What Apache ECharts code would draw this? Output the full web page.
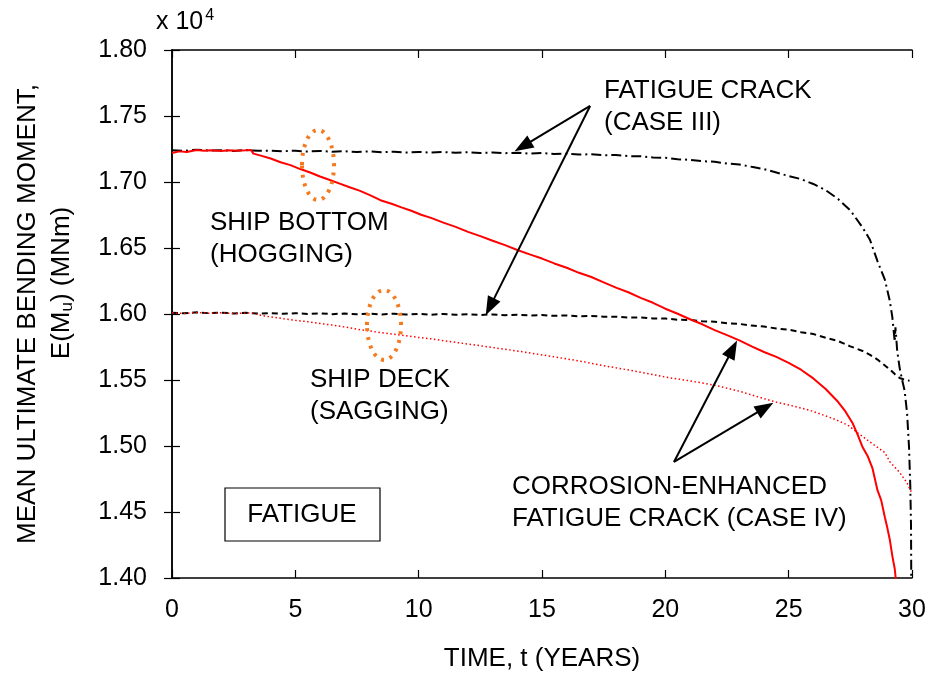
<!DOCTYPE html>
<html>
<head>
<meta charset="utf-8">
<script src="https://cdn.jsdelivr.net/npm/echarts@6/dist/echarts.min.js"></script>
<style>
  html, body { margin: 0; padding: 0; background: #fff; }
  #chart { width: 935px; height: 677px; }
</style>
</head>
<body>
<div id="chart"></div>
<script>
// values in units of 10^4 MNm, t in years
const hoggingCaseIII = [
  [0,1.7240],[0.5,1.7236],[1,1.7245],[1.5,1.7238],[2,1.7241],[2.5,1.7235],[3,1.7242],[3.5,1.7236],
  [4,1.7238],[4.5,1.7233],[5,1.7237],[5.5,1.7231],[6,1.7235],[6.5,1.7229],[7,1.7233],[7.5,1.7227],
  [8,1.7232],[8.5,1.7226],[9,1.7230],[9.5,1.7224],[10,1.7228],[10.5,1.7223],[11,1.7227],[11.5,1.7221],
  [12,1.7226],[12.5,1.7220],[13,1.7224],[13.5,1.7218],[14,1.7222],[14.5,1.7215],[15,1.7219],[15.5,1.7212],
  [16,1.7215],[16.5,1.7208],[17,1.7210],[17.5,1.7203],[18,1.7204],[18.5,1.7196],[19,1.7195],[19.5,1.7186],
  [20,1.7183],[20.5,1.7172],[21,1.7168],[21.5,1.7158],[22,1.7153],[22.5,1.7140],[23,1.7133],[23.5,1.7115],
  [24,1.7098],[24.5,1.7072],[25,1.7045],[25.5,1.7022],[26,1.6985],[26.5,1.6938],[27,1.6872],[27.5,1.6785],
  [28,1.6655],[28.3,1.6560],[28.6,1.6400],[28.9,1.6260],[29.1,1.6100],[29.2,1.5980],[29.3,1.5790],
  [29.33,1.5900],[29.4,1.5720],[29.5,1.5590],[29.6,1.5500],[29.7,1.5420],[29.8,1.5250],[29.88,1.4990],
  [29.93,1.4700],[29.96,1.4400],[29.97,1.3990]
];
const saggingCaseIII = [
  [0,1.6010],[0.5,1.6005],[1,1.6013],[1.5,1.6006],[2,1.6010],[2.5,1.6004],[3,1.6009],[3.5,1.6003],
  [4,1.6007],[4.5,1.6001],[5,1.6006],[5.5,1.6000],[6,1.6005],[6.5,1.5999],[7,1.6004],[7.5,1.5998],
  [8,1.6003],[8.5,1.5997],[9,1.6002],[9.5,1.5996],[10,1.6001],[10.5,1.5995],[11,1.6000],[11.5,1.5994],
  [12,1.5998],[12.5,1.5993],[13,1.5997],[13.5,1.5991],[14,1.5995],[14.5,1.5989],[15,1.5992],[15.5,1.5986],
  [16,1.5989],[16.5,1.5983],[17,1.5985],[17.5,1.5979],[18,1.5980],[18.5,1.5973],[19,1.5974],[19.5,1.5966],
  [20,1.5965],[20.5,1.5957],[21,1.5955],[21.5,1.5945],[22,1.5942],[22.5,1.5930],[23,1.5925],[23.5,1.5912],
  [24,1.5905],[24.5,1.5890],[25,1.5882],[25.5,1.5862],[26,1.5848],[26.5,1.5820],[27,1.5795],[27.5,1.5755],
  [28,1.5720],[28.3,1.5690],[28.6,1.5655],[28.9,1.5610],[29.1,1.5580],[29.3,1.5545],[29.5,1.5515],
  [29.7,1.5502],[29.9,1.5495]
];
const hoggingCaseIV = [
  [0,1.7220],[0.3,1.7232],[0.6,1.7228],[1,1.7242],[1.3,1.7236],[1.6,1.7240],[2,1.7235],[2.3,1.7241],
  [2.6,1.7236],[3,1.7240],[3.2,1.7243],[3.3,1.7215],[3.6,1.7200],[4,1.7178],[4.4,1.7150],[4.8,1.7128],
  [5.2,1.7098],[5.6,1.7072],[6,1.7042],[6.4,1.7015],[6.8,1.6988],[7.2,1.6960],[7.6,1.6935],[8,1.6902],
  [8.45,1.6862],[8.9,1.6835],[9.3,1.6808],[9.7,1.6782],[10.1,1.6752],[10.5,1.6728],[11,1.6692],[11.5,1.6660],
  [12,1.6622],[12.5,1.6590],[13,1.6555],[13.5,1.6522],[14,1.6485],[14.5,1.6452],[15,1.6420],[15.5,1.6383],
  [16,1.6350],[16.5,1.6312],[17,1.6280],[17.5,1.6240],[18,1.6200],[18.5,1.6165],[19,1.6122],[19.5,1.6085],
  [20,1.6040],[20.5,1.6002],[21,1.5960],[21.5,1.5922],[22,1.5878],[22.5,1.5840],[23,1.5800],[23.5,1.5755],
  [24,1.5712],[24.5,1.5675],[25,1.5630],[25.5,1.5578],[26,1.5512],[26.5,1.5432],[27,1.5335],[27.3,1.5262],
  [27.6,1.5170],[27.8,1.5085],[28,1.4990],[28.2,1.4925],[28.4,1.4830],[28.6,1.4665],[28.75,1.4590],
  [28.9,1.4460],[29.0,1.4380],[29.1,1.4290],[29.2,1.4170],[29.3,1.4070],[29.35,1.3980]
];
const saggingCaseIV = [
  [0,1.6010],[0.5,1.6004],[1,1.6012],[1.5,1.6006],[2,1.6009],[2.5,1.6003],[3,1.6008],[3.3,1.6005],
  [3.6,1.5990],[4,1.5978],[4.5,1.5965],[5,1.5952],[5.5,1.5942],[6,1.5928],[6.5,1.5916],[7,1.5902],
  [7.6,1.5882],[8,1.5872],[8.5,1.5858],[9,1.5846],[9.5,1.5835],[10,1.5822],[10.5,1.5812],[11,1.5798],
  [11.7,1.5780],[12.3,1.5765],[13,1.5746],[13.6,1.5730],[14.2,1.5714],[14.8,1.5696],[15.4,1.5678],[16,1.5660],
  [16.7,1.5638],[17.4,1.5612],[18,1.5592],[18.7,1.5570],[19.4,1.5545],[20,1.5522],[20.7,1.5502],[21.5,1.5478],
  [22.2,1.5452],[23,1.5415],[23.8,1.5370],[24.5,1.5332],[25.2,1.5302],[25.9,1.5268],[26.5,1.5228],[26.9,1.5200],
  [27.4,1.5158],[27.8,1.5100],[28.3,1.5030],[28.9,1.4950],[29.1,1.4880],[29.5,1.4800],[29.8,1.4720],[30,1.4640]
];

// annotation arrows: [from, to] in data coords
const caseIIIArrows = [
  [[16.95, 1.7576], [14.22, 1.7270]],
  [[16.95, 1.7576], [12.89, 1.6054]]
];
const caseIVArrows = [
  [[20.35, 1.4879], [22.73, 1.5735]],
  [[20.35, 1.4879], [24.05, 1.5291]]
];

const FONT = "Liberation Sans, Arial, sans-serif";
const chart = echarts.init(document.getElementById("chart"));

function arrowLines(list) {
  return list.map(([a, b]) => [{ coord: a }, { coord: b }]);
}

function txt(x, y, text, extra) {
  return {
    type: "text", x, y, silent: true, z: 10,
    style: Object.assign({ text, font: "26px " + FONT, fill: "#000", align: "left", verticalAlign: "middle" }, extra || {})
  };
}

const axisCommon = {
  type: "value",
  axisLine: { show: true, lineStyle: { color: "#000", width: 1.5 } },
  axisTick: { show: true, inside: true, length: 8, lineStyle: { color: "#000", width: 1.2 } },
  splitLine: { show: false }
};

chart.setOption({
  animation: false,
  backgroundColor: "#fff",
  grid: { left: 172, right: 23, top: 50, bottom: 99 },
  xAxis: [
    Object.assign({}, axisCommon, {
      min: 0, max: 30, interval: 5, position: "bottom",
      axisLabel: { fontSize: 25, fontFamily: FONT, color: "#000", margin: 20 },
      name: "TIME, t (YEARS)", nameLocation: "middle", nameGap: 68,
      nameTextStyle: { fontSize: 26, fontFamily: FONT, color: "#000" }
    }),
    Object.assign({}, axisCommon, {
      min: 0, max: 30, interval: 5, position: "top", axisLabel: { show: false }
    })
  ],
  yAxis: [
    Object.assign({}, axisCommon, {
      min: 1.4, max: 1.8, interval: 0.05, position: "left",
      axisLabel: { fontSize: 25, fontFamily: FONT, color: "#000", margin: 25, formatter: v => v.toFixed(2) }
    }),
    Object.assign({}, axisCommon, {
      min: 1.4, max: 1.8, interval: 0.05, position: "right", axisLabel: { show: false }
    })
  ],
  series: [
    {
      name: "Hogging, Case III", type: "line", data: hoggingCaseIII, showSymbol: false,
      lineStyle: { color: "#000", width: 2, type: [10, 4, 2, 4] },
      markLine: {
        silent: true, symbol: ["none", "triangle"], symbolSize: [14, 19],
        label: { show: false },
        lineStyle: { color: "#000", width: 2, type: "solid" },
        data: arrowLines(caseIIIArrows.concat(caseIVArrows))
      }
    },
    {
      name: "Sagging, Case III", type: "line", data: saggingCaseIII, showSymbol: false,
      lineStyle: { color: "#000", width: 2, type: [6, 4] }
    },
    {
      name: "Hogging, Case IV", type: "line", data: hoggingCaseIV, showSymbol: false,
      lineStyle: { color: "#ff0000", width: 2 }
    },
    {
      name: "Sagging, Case IV", type: "line", data: saggingCaseIV, showSymbol: false,
      lineStyle: { color: "#ff0000", width: 1.5, type: [1.5, 2.5] }
    }
  ],
  graphic: [
    {
      type: "text", x: 156, y: 22, silent: true,
      style: {
        text: "{a|x 10}{s|4}", verticalAlign: "middle",
        rich: {
          a: { fontSize: 25, fontFamily: FONT, fill: "#000" },
          s: { fontSize: 16, fontFamily: FONT, fill: "#000", verticalAlign: "top", padding: [0, 0, 12, 2] }
        }
      }
    },
    {
      type: "text", x: 28, y: 314, rotation: Math.PI / 2, silent: true,
      style: { text: "MEAN ULTIMATE BENDING MOMENT,", font: "26px " + FONT, fill: "#000", align: "center", verticalAlign: "middle" }
    },
    {
      type: "text", x: 62, y: 283, rotation: Math.PI / 2, silent: true,
      style: {
        text: "{a|E(M}{s|u}{a|) (MNm)}", align: "center", verticalAlign: "middle",
        rich: {
          a: { fontSize: 26, fontFamily: FONT, fill: "#000" },
          s: { fontSize: 17, fontFamily: FONT, fill: "#000", padding: [10, 0, 0, 0] }
        }
      }
    },
    txt(604, 91, "FATIGUE CRACK"),
    txt(604, 123, "(CASE III)"),
    txt(210, 223, "SHIP BOTTOM"),
    txt(210, 255, "(HOGGING)"),
    txt(310, 380, "SHIP DECK"),
    txt(310, 412, "(SAGGING)"),
    txt(512, 487, "CORROSION-ENHANCED"),
    txt(512, 519, "FATIGUE CRACK (CASE IV)"),
    {
      type: "rect", silent: true, z: 10,
      shape: { x: 225, y: 488, width: 155, height: 53 },
      style: { fill: "#fff", stroke: "#000", lineWidth: 1.2 }
    },
    txt(302, 515, "FATIGUE", { align: "center" }),
    {
      type: "ellipse", silent: true, z: 10,
      shape: { cx: 318, cy: 165, rx: 16, ry: 35 },
      style: { fill: "none", stroke: "#f57a1f", lineWidth: 4, lineDash: [3, 6] }
    },
    {
      type: "ellipse", silent: true, z: 10,
      shape: { cx: 384, cy: 325, rx: 17, ry: 35 },
      style: { fill: "none", stroke: "#f57a1f", lineWidth: 4, lineDash: [3, 6] }
    }
  ]
});
</script>
</body>
</html>
